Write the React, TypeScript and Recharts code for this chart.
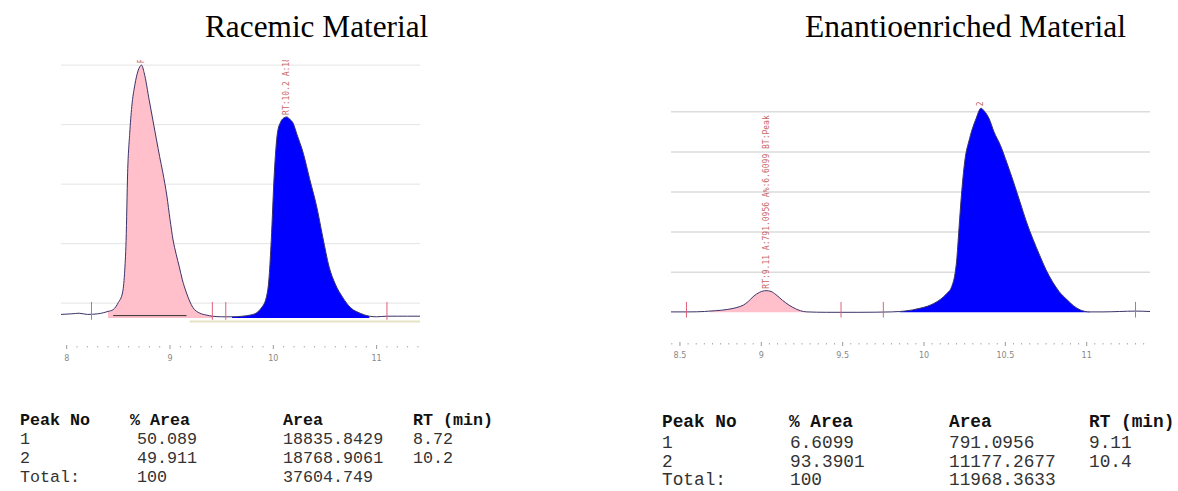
import React from 'react';
import { ComposedChart, Area, Line, XAxis, YAxis, CartesianGrid, ReferenceLine, Scatter } from 'recharts';

// ---------- Titles ----------
const leftTitle = 'Racemic Material';
const rightTitle = 'Enantioenriched Material';

// ---------- Racemic trace (retention time in min, detector signal in grid units) ----------
const leftRT = [7.945, 8.05, 8.12, 8.2, 8.3, 8.36, 8.4, 8.45, 8.5, 8.54, 8.56, 8.575, 8.59, 8.61, 8.63, 8.66, 8.69, 8.725, 8.75, 8.8, 8.87, 8.9, 8.93, 8.97, 9.0, 9.03, 9.06, 9.09, 9.12, 9.16, 9.22, 9.29, 9.35, 9.41, 9.5, 9.6, 9.7, 9.78, 9.84, 9.88, 9.93, 9.96, 9.98, 10.01, 10.04, 10.07, 10.1, 10.13, 10.16, 10.19, 10.23, 10.29, 10.35, 10.42, 10.48, 10.54, 10.6, 10.67, 10.75, 10.84, 10.93, 11.0, 11.1, 11.2, 11.3, 11.42];
const leftSignal = [0.06, 0.07, 0.08, 0.06, 0.07, 0.09, 0.11, 0.14, 0.26, 0.42, 0.75, 1.3, 2.44, 3.1, 3.55, 3.92, 4.15, 4.25, 4.12, 3.65, 2.99, 2.71, 2.45, 2.05, 1.66, 1.31, 1.07, 0.86, 0.64, 0.42, 0.18, 0.08, 0.05, 0.03, 0.02, 0.02, 0.03, 0.05, 0.09, 0.16, 0.33, 0.7, 1.3, 2.44, 3.11, 3.29, 3.36, 3.38, 3.34, 3.28, 3.08, 2.77, 2.35, 1.87, 1.35, 0.86, 0.57, 0.35, 0.17, 0.08, 0.03, 0.02, 0.03, 0.03, 0.03, 0.03];
const leftPeak1Window = [8.4, 9.41];
const leftPeak2Window = [9.6, 10.93];
const leftGridValues = [0.25, 1.25, 2.25, 3.25, 4.25];
const leftMarkerTimes = [8.24, 9.41, 9.54, 11.1];
const leftMajorTicks = [8, 9, 10, 11];
const leftMajorLabels = ['8', '9', '10', '11'];
const leftAnnotTimes = [8.725, 10.13];
const leftAnnotSignals = [4.25, 3.38];
const leftAnnotTexts = ['RT', 'RT:10.2  A:18'];

// ---------- Enantioenriched trace ----------
const rightRT = [8.445, 8.55, 8.65, 8.68, 8.72, 8.79, 8.85, 8.89, 8.92, 8.95, 8.99, 9.03, 9.06, 9.09, 9.13, 9.17, 9.21, 9.24, 9.28, 9.4, 9.6, 9.8, 9.85, 9.88, 9.93, 9.975, 10.02, 10.06, 10.1, 10.14, 10.17, 10.19, 10.2, 10.215, 10.23, 10.25, 10.28, 10.32, 10.35, 10.37, 10.4, 10.43, 10.47, 10.51, 10.55, 10.59, 10.63, 10.67, 10.71, 10.75, 10.79, 10.83, 10.88, 10.92, 10.96, 11.02, 11.1, 11.2, 11.3, 11.389];
const rightSignal = [0.01, 0.01, 0.02, 0.03, 0.04, 0.07, 0.12, 0.18, 0.27, 0.39, 0.5, 0.54, 0.52, 0.44, 0.3, 0.18, 0.09, 0.04, 0.01, 0.0, 0.0, 0.01, 0.02, 0.03, 0.06, 0.1, 0.15, 0.22, 0.32, 0.47, 0.64, 0.95, 1.26, 2.09, 2.92, 3.75, 4.33, 4.83, 5.09, 5.02, 4.83, 4.5, 4.16, 3.72, 3.25, 2.75, 2.25, 1.82, 1.43, 1.06, 0.76, 0.52, 0.31, 0.16, 0.06, 0.01, 0.01, 0.02, 0.03, 0.02];
const rightPeak1Window = [8.68, 9.28];
const rightPeak2Window = [9.85, 11.02];
const rightGridValues = [1, 2, 3, 4, 5];
const rightMarkerTimes = [8.54, 9.49, 9.75, 11.3];
const rightMajorTicks = [8.5, 9, 9.5, 10, 10.5, 11];
const rightMajorLabels = ['8.5', '9', '9.5', '10', '10.5', '11'];
const rightAnnotTimes = [9.03, 10.35];
const rightAnnotSignals = [0.54, 5.09];
const rightAnnotTexts = ['RT:9.11  A:791.0956  A%:6.6099  BT:Peak', '2'];

// ---------- Tables ----------
const tableHeaders = ['Peak No', '% Area', 'Area', 'RT (min)'];
const leftPeakNo = ['1', '2', 'Total:'];
const leftPctArea = ['50.089', '49.911', '100'];
const leftAreaVals = ['18835.8429', '18768.9061', '37604.749'];
const leftRtMin = ['8.72', '10.2', ''];
const rightPeakNo = ['1', '2', 'Total:'];
const rightPctArea = ['6.6099', '93.3901', '100'];
const rightAreaVals = ['791.0956', '11177.2677', '11968.3633'];
const rightRtMin = ['9.11', '10.4', ''];

const TRACE = '#3b3468';
const PINK = '#ffc0cb';
const BLUE = '#0000ff';
const MARK = '#e0607a';
const ANNOT = '#c24a4a';

function buildRows(rt: number[], sig: number[], w1: number[], w2: number[]) {
  return rt.map((t, i) => ({
    rt: t,
    signal: sig[i],
    peak1: t >= w1[0] - 1e-9 && t <= w1[1] + 1e-9 ? sig[i] : null,
    peak2: t >= w2[0] - 1e-9 && t <= w2[1] + 1e-9 ? sig[i] : null,
  }));
}

function minorTicks(start: number, count: number, step: number) {
  return Array.from({ length: count }, (_, k) => Math.round((start + k * step) * 1000) / 1000);
}

const makeTick = (majors: number[], labels: string[], cfg: { a: number; b: number; m1: number; m2: number; lb: number }) =>
  (props: any) => {
    const { x, y, payload } = props;
    const v = payload.value;
    const idx = majors.findIndex((m) => Math.abs(m - v) < 1e-6);
    if (idx >= 0) {
      return (
        <g>
          <line x1={x} x2={x} y1={y + cfg.a} y2={y + cfg.b} stroke="#999" strokeWidth={1} />
          <text x={x} y={y + cfg.lb} textAnchor="middle" fontSize={8} fill="#888" fontFamily="DejaVu Sans, sans-serif">
            {labels[idx]}
          </text>
        </g>
      );
    }
    return <line x1={x} x2={x} y1={y + cfg.m1} y2={y + cfg.m2} stroke="#aaa" strokeWidth={1} />;
  };

const AnnotShape = (props: any) => {
  const { cx, cy, payload } = props;
  if (cx == null || cy == null) return <g />;
  const y0 = cy - 2;
  return (
    <text
      x={cx}
      y={y0}
      transform={`rotate(-90 ${cx} ${y0})`}
      fontSize={8}
      fill={ANNOT}
      opacity={0.85}
      dominantBaseline="central"
      fontFamily="DejaVu Sans Mono, monospace"
    >
      {payload.label}
    </text>
  );
};

interface ChromProps {
  width: number;
  height: number;
  margin: { top: number; right: number; bottom: number; left: number };
  rows: any[];
  xDomain: number[];
  yDomain: number[];
  gridValues: number[];
  gridColor: string;
  gridWidth: number;
  ticks: number[];
  tick: any;
  markers: number[];
  markerRange: number[];
  annots: any[];
  extra?: React.ReactNode;
}

function Chromatogram(p: ChromProps) {
  return (
    <ComposedChart width={p.width} height={p.height} data={p.rows} margin={p.margin}>
      <CartesianGrid vertical={false} horizontalValues={p.gridValues} stroke={p.gridColor} strokeWidth={p.gridWidth} />
      <XAxis
        type="number"
        dataKey="rt"
        domain={p.xDomain}
        allowDataOverflow
        ticks={p.ticks}
        interval={0}
        tick={p.tick}
        axisLine={false}
        tickLine={false}
        tickSize={0}
        tickMargin={0}
        height={30}
      />
      <YAxis type="number" dataKey="signal" domain={p.yDomain} allowDataOverflow hide ticks={p.gridValues} />
      {p.extra}
      <Area type="monotone" dataKey="peak1" stroke="none" fill={PINK} fillOpacity={1} baseValue={0} isAnimationActive={false} connectNulls={false} dot={false} activeDot={false} />
      <Area type="monotone" dataKey="peak2" stroke="none" fill={BLUE} fillOpacity={1} baseValue={0} isAnimationActive={false} connectNulls={false} dot={false} activeDot={false} />
      <Line type="monotone" dataKey="signal" stroke={TRACE} strokeWidth={1} dot={false} activeDot={false} isAnimationActive={false} />
      {p.markers.map((t, i) => (
        <ReferenceLine
          key={'m' + i}
          segment={[{ x: t, y: p.markerRange[0] }, { x: t, y: p.markerRange[1] }]}
          stroke={MARK}
          strokeWidth={1}
        />
      ))}
      <Scatter data={p.annots} dataKey="signal" shape={AnnotShape} isAnimationActive={false} />
    </ComposedChart>
  );
}

function TableText(props: {
  colHeaderX: number[];
  colValueX: number[];
  rowY: number[];
  fontSize: number;
  cols: string[][];
}) {
  const { colHeaderX, colValueX, rowY, fontSize, cols } = props;
  return (
    <g fontFamily="Liberation Mono, Courier New, monospace" fontSize={fontSize}>
      {tableHeaders.map((h, i) => (
        <text key={'h' + i} x={colHeaderX[i]} y={rowY[0]} fontWeight="bold" fill="#111" xmlSpace="preserve">
          {h}
        </text>
      ))}
      {cols.map((col, ci) =>
        col.map((v, ri) => (
          <text key={ci + '-' + ri} x={colValueX[ci]} y={rowY[ri + 1]} fill="#333">
            {v}
          </text>
        ))
      )}
    </g>
  );
}

export default function App() {
  const leftRows = buildRows(leftRT, leftSignal, leftPeak1Window, leftPeak2Window);
  const rightRows = buildRows(rightRT, rightSignal, rightPeak1Window, rightPeak2Window);
  const leftAnnots = leftAnnotTimes.map((t, i) => ({ rt: t, signal: leftAnnotSignals[i], label: leftAnnotTexts[i] }));
  const rightAnnots = rightAnnotTimes.map((t, i) => ({ rt: t, signal: rightAnnotSignals[i], label: rightAnnotTexts[i] }));

  const leftTick = makeTick(leftMajorTicks, leftMajorLabels, { a: 5, b: 9, m1: 6, m2: 7.5, lb: 21 });
  const rightTick = makeTick(rightMajorTicks, rightMajorLabels, { a: 7, b: 11, m1: 8, m2: 9.5, lb: 22.5 });

  return (
    <div style={{ position: 'absolute', left: 0, top: 0, width: 1178, height: 491, background: '#fff', overflow: 'hidden' }}>
      <svg width={1178} height={491} style={{ position: 'absolute', left: 0, top: 0 }}>
        <text x={205} y={37} fontFamily="Liberation Serif, Times New Roman, serif" fontSize={31.3} fill="#000">
          {leftTitle}
        </text>
        <text x={805} y={37} fontFamily="Liberation Serif, Times New Roman, serif" fontSize={31.5} fill="#000">
          {rightTitle}
        </text>
        <TableText
          colHeaderX={[20, 130, 283, 413]}
          colValueX={[20, 137, 283, 413]}
          rowY={[425, 444, 463, 482]}
          fontSize={16.7}
          cols={[leftPeakNo, leftPctArea, leftAreaVals, leftRtMin]}
        />
        <TableText
          colHeaderX={[662, 789, 949, 1089]}
          colValueX={[662, 790, 949, 1089]}
          rowY={[427, 447.5, 467, 485]}
          fontSize={17.8}
          cols={[rightPeakNo, rightPctArea, rightAreaVals, rightRtMin]}
        />
      </svg>
      <div style={{ position: 'absolute', left: 0, top: 0 }}>
        <Chromatogram
          width={440}
          height={380}
          margin={{ top: 60, right: 20, bottom: 10, left: 61 }}
          rows={leftRows}
          xDomain={[7.945, 11.42]}
          yDomain={[-0.37, 4.336]}
          gridValues={leftGridValues}
          gridColor="#e4e4e4"
          gridWidth={1}
          ticks={minorTicks(8, 35, 0.1)}
          tick={leftTick}
          markers={leftMarkerTimes}
          markerRange={[-0.03, 0.27]}
          annots={leftAnnots}
          extra={[
            <ReferenceLine key="olive" segment={[{ x: 9.19, y: -0.06 }, { x: 11.42, y: -0.06 }]} stroke="#e6e2c4" strokeWidth={2} />,
            <ReferenceLine key="drop" segment={[{ x: 8.45, y: 0.04 }, { x: 9.16, y: 0.04 }]} stroke="#333" strokeWidth={1} />,
          ]}
        />
      </div>
      <div style={{ position: 'absolute', left: 640, top: 0 }}>
        <Chromatogram
          width={538}
          height={380}
          margin={{ top: 100, right: 28, bottom: 15, left: 31 }}
          rows={rightRows}
          xDomain={[8.445, 11.389]}
          yDomain={[-0.566, 5.294]}
          gridValues={rightGridValues}
          gridColor="#dcdcdc"
          gridWidth={1.5}
          ticks={minorTicks(8.45, 59, 0.05)}
          tick={rightTick}
          markers={rightMarkerTimes}
          markerRange={[-0.13, 0.26]}
          annots={rightAnnots}
        />
      </div>
    </div>
  );
}
